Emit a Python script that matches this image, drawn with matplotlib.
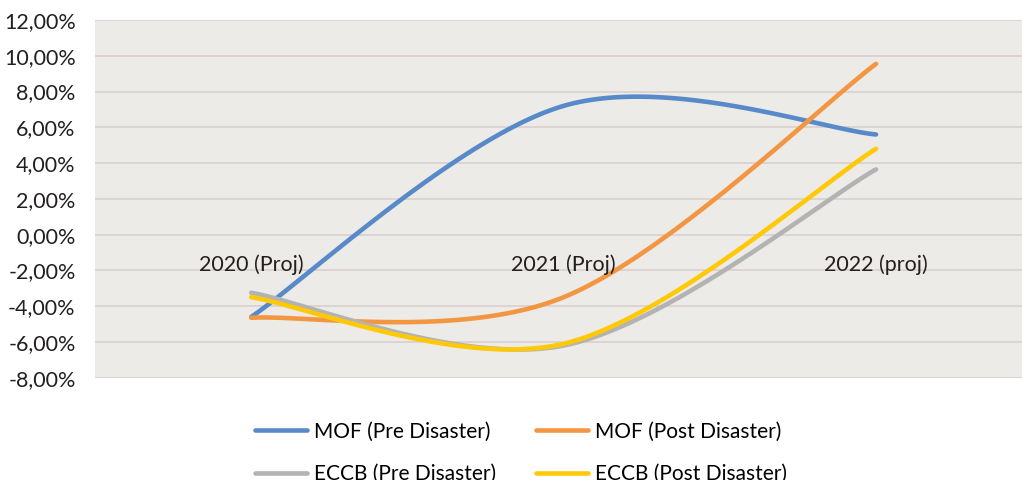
import numpy as np
import matplotlib
matplotlib.use("Agg")
import matplotlib.pyplot as plt
from matplotlib.ticker import FuncFormatter

years = ["2020 (Proj)", "2021 (Proj)", "2022 (proj)"]

mof_pre = [-4.60, 7.20, 5.60]
mof_post = [-4.65, -3.50, 9.55]
eccb_pre = [-3.25, -6.20, 3.65]
eccb_post = [-3.50, -6.10, 4.80]

names = ["MOF (Pre Disaster)", "MOF (Post Disaster)", "ECCB (Pre Disaster)", "ECCB (Post Disaster)"]
colors = ["#588ac9", "#f39642", "#b3b3b3", "#ffc907"]


def smooth(xs, ys, n=60):
	# spreadsheet style smoothed line: cubic bezier pieces, tangents from neighbours
	pts = np.column_stack([xs, ys]).astype(float)
	out = []
	for i in range(len(pts) - 1):
		p0 = pts[max(i - 1, 0)]
		p1 = pts[i]
		p2 = pts[i + 1]
		p3 = pts[min(i + 2, len(pts) - 1)]
		c1 = p1 + (p2 - p0) / 6.0
		c2 = p2 - (p3 - p1) / 6.0
		t = np.linspace(0, 1, n)[:, None]
		seg = (1 - t) ** 3 * p1 + 3 * (1 - t) ** 2 * t * c1 + 3 * (1 - t) * t ** 2 * c2 + t ** 3 * p2
		out.append(seg if i == 0 else seg[1:])
	seg = np.vstack(out)
	return seg[:, 0], seg[:, 1]


plt.rcParams["font.family"] = ["Lato", "DejaVu Sans"]
fig = plt.figure(figsize=(10.22, 4.80), dpi=100)
ax = fig.add_axes([0.093, 0.2131, 0.917, 0.7452])
ax.set_facecolor("#edebe7")

x = np.arange(len(years))
lines = []
for vals, name, col in zip([mof_pre, mof_post, eccb_pre, eccb_post], names, colors):
	sx, sy = smooth(x, vals)
	ln, = ax.plot(sx, sy, color=col, lw=3.3, solid_capstyle="round", label=name)
	lines.append(ln)

ax.set_xlim(-0.5, 2.5)
ax.set_ylim(-8, 12)
ax.set_yticks(np.arange(-8, 13, 2))
ax.yaxis.set_major_formatter(FuncFormatter(lambda v, p: f"{v:.2f}%".replace(".", ",")))
ax.grid(axis="y", color="#dad2d0", lw=1.3)
ax.set_axisbelow(True)
for s in ax.spines.values():
	s.set_visible(False)
ax.set_xticks([])
ax.tick_params(axis="y", length=0, pad=14, labelsize=15.5, labelcolor="#231f20")

# category labels sit just under the zero line
for i, yr in enumerate(years):
	ax.annotate(yr, (i, 0), xytext=(0, -14), textcoords="offset points", ha="center", va="top",
		fontsize=15.5, color="#231f20", zorder=5)

order = [0, 2, 1, 3]
fig.legend([lines[i] for i in order], [names[i] for i in order], loc="upper left",
	bbox_to_anchor=(0.2495, 0.122), ncol=2, frameon=False,
	fontsize=15, handlelength=2.5, handletextpad=0.33, columnspacing=1.9,
	labelspacing=1.1, borderaxespad=0, borderpad=0)

fig.savefig("out.png", dpi=100)
